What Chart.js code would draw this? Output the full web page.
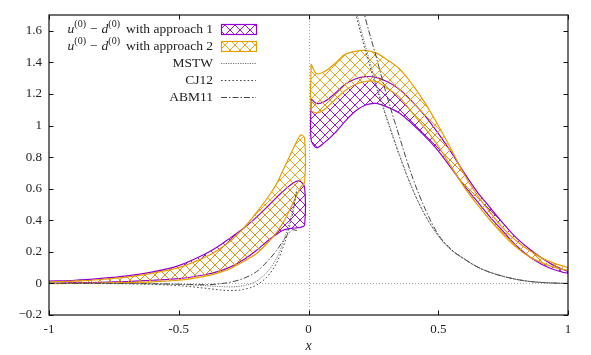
<!DOCTYPE html>
<html>
<head>
<meta charset="utf-8">
<script src="https://cdn.jsdelivr.net/npm/chart.js@4.4.1/dist/chart.umd.min.js"></script>
<style>
  html, body { margin: 0; padding: 0; background: #fff; }
  #wrap { width: 591px; height: 355px; }
</style>
</head>
<body>
<div id="wrap"><canvas id="chart" width="591" height="355"></canvas></div>
<script>
// axis ticks
const xTicks = [-1, -0.5, 0, 0.5, 1];
const xTickLabels = ['-1', '-0.5', '0', '0.5', '1'];
const yTicks = [-0.2, 0, 0.2, 0.4, 0.6, 0.8, 1, 1.2, 1.4, 1.6];
const yTickLabels = ['\u22120.2', '0', '0.2', '0.4', '0.6', '0.8', '1', '1.2', '1.4', '1.6'];

// band pieces for x < 0
const xLeft = [-1, -0.9, -0.8, -0.7, -0.6, -0.5, -0.4, -0.35, -0.3, -0.25, -0.2, -0.15, -0.12, -0.1, -0.08, -0.06, -0.045, -0.03, -0.015];
const appr1LeftUpper = [0.015, 0.02, 0.032, 0.048, 0.073, 0.113, 0.185, 0.232, 0.29, 0.35, 0.42, 0.50, 0.55, 0.58, 0.61, 0.635, 0.648, 0.645, 0.61];
const appr1LeftLower = [0.003, 0.005, 0.007, 0.012, 0.02, 0.03, 0.055, 0.075, 0.105, 0.15, 0.21, 0.28, 0.315, 0.335, 0.345, 0.35, 0.352, 0.355, 0.37];
const appr2LeftUpper = [0.01, 0.015, 0.025, 0.04, 0.065, 0.10, 0.165, 0.21, 0.27, 0.35, 0.45, 0.56, 0.64, 0.71, 0.78, 0.85, 0.90, 0.94, 0.92];
const appr2LeftLower = [0.0, 0.0, 0.002, 0.005, 0.01, 0.02, 0.045, 0.065, 0.095, 0.14, 0.19, 0.27, 0.33, 0.38, 0.44, 0.51, 0.56, 0.61, 0.64];

// band pieces for x > 0
const xRight = [0.01, 0.03, 0.06, 0.1, 0.14, 0.18, 0.22, 0.26, 0.3, 0.35, 0.4, 0.45, 0.5, 0.55, 0.6, 0.65, 0.7, 0.75, 0.8, 0.85, 0.9, 0.95, 1.0];
const appr1RightUpper = [1.17, 1.14, 1.15, 1.20, 1.26, 1.295, 1.31, 1.305, 1.28, 1.23, 1.15, 1.06, 0.95, 0.83, 0.70, 0.58, 0.48, 0.38, 0.29, 0.22, 0.16, 0.11, 0.075];
const appr1RightLower = [0.91, 0.86, 0.89, 0.95, 1.025, 1.09, 1.13, 1.14, 1.12, 1.08, 1.01, 0.93, 0.84, 0.73, 0.62, 0.52, 0.42, 0.33, 0.24, 0.17, 0.12, 0.085, 0.065];
const appr2RightUpper = [1.39, 1.33, 1.34, 1.39, 1.45, 1.47, 1.475, 1.46, 1.42, 1.36, 1.26, 1.14, 1.0, 0.85, 0.69, 0.56, 0.45, 0.35, 0.27, 0.21, 0.16, 0.125, 0.10];
const appr2RightLower = [1.10, 1.08, 1.10, 1.16, 1.22, 1.26, 1.28, 1.28, 1.24, 1.18, 1.08, 0.98, 0.87, 0.74, 0.61, 0.50, 0.40, 0.31, 0.23, 0.17, 0.13, 0.10, 0.085];

// global fits
const xPdfLeft = [-1, -0.8, -0.6, -0.5, -0.4, -0.35, -0.3, -0.25, -0.2, -0.15, -0.12, -0.1, -0.08, -0.06, -0.045];
const mstwLeft = [0, 0, -0.002, -0.006, -0.014, -0.019, -0.022, -0.014, 0.015, 0.09, 0.17, 0.25, 0.35, 0.47, 0.58];
const cj12Left = [0, -0.001, -0.006, -0.014, -0.03, -0.04, -0.045, -0.038, -0.01, 0.06, 0.14, 0.22, 0.32, 0.45, 0.6];
const abm11Left = [0, 0, -0.002, -0.005, -0.008, -0.004, 0.008, 0.032, 0.075, 0.155, 0.215, 0.265, 0.31, 0.34, 0.335];

const xPdfRight = [0.1, 0.14, 0.18, 0.22, 0.26, 0.3, 0.35, 0.4, 0.45, 0.5, 0.55, 0.6, 0.65, 0.7, 0.75, 0.8, 0.85, 0.9, 0.95, 1.0];
const mstwRight = [2.35, 2.03, 1.75, 1.50, 1.27, 1.06, 0.82, 0.60, 0.43, 0.30, 0.21, 0.155, 0.105, 0.07, 0.045, 0.026, 0.013, 0.006, 0.002, 0];
const cj12Right = [2.3, 2.0, 1.72, 1.47, 1.25, 1.05, 0.81, 0.60, 0.43, 0.305, 0.215, 0.155, 0.105, 0.07, 0.045, 0.026, 0.013, 0.006, 0.002, 0];
const abm11Right = [2.6, 2.25, 1.95, 1.675, 1.44, 1.20, 0.93, 0.675, 0.47, 0.31, 0.215, 0.155, 0.105, 0.07, 0.045, 0.026, 0.013, 0.006, 0.002, 0];

const PURPLE = '#9400d3';
const ORANGE = '#e69f00';
const FONT = 'Liberation Serif';

Chart.defaults.font.family = FONT;
Chart.defaults.font.size = 13;
Chart.defaults.color = '#222';

// crosshatch fill like gnuplot pattern
function hatch(color) {
    const c = document.createElement('canvas');
    c.width = 10;
    c.height = 10;
    const g = c.getContext('2d');
    g.strokeStyle = color;
    g.lineWidth = 0.9;
    g.beginPath();
    for (const o of [-10, 0, 10]) {
        g.moveTo(o, 0); g.lineTo(o + 10, 10);
        g.moveTo(o, 10); g.lineTo(o + 10, 0);
    }
    g.stroke();
    return g.createPattern(c, 'repeat');
}

// closed outline: upper curve forward, lower curve back
function polygon(xs, upper, lower) {
    const pts = xs.map((x, i) => ({ x: x, y: upper[i] }));
    for (let i = xs.length - 1; i >= 0; i--) pts.push({ x: xs[i], y: lower[i] });
    pts.push({ x: xs[0], y: upper[0] });
    return pts;
}

function curve(xs, ys) {
    return xs.map((x, i) => ({ x: x, y: ys[i] }));
}

function band(xs, upper, lower, color, order) {
    return {
        data: polygon(xs, upper, lower),
        borderColor: color,
        borderWidth: 1.2,
        backgroundColor: hatch(color),
        fill: 'shape',
        tension: 0.3,
        pointRadius: 0,
        order: order
    };
}

const lineStyles = {
    MSTW: { color: '#666', dash: [1.2, 1.2], width: 0.9 },
    CJ12: { color: '#444', dash: [1.6, 2.2], width: 1 },
    ABM11: { color: '#333', dash: [6, 2, 1.5, 2], width: 0.9 }
};

function pdfLine(xs, ys, name) {
    const s = lineStyles[name];
    return {
        data: curve(xs, ys),
        borderColor: s.color,
        borderDash: s.dash,
        borderWidth: s.width,
        fill: false,
        cubicInterpolationMode: 'monotone',
        pointRadius: 0,
        order: 0
    };
}

const datasets = [
    band(xLeft, appr1LeftUpper, appr1LeftLower, PURPLE, 2),
    band(xRight, appr1RightUpper, appr1RightLower, PURPLE, 2),
    band(xLeft, appr2LeftUpper, appr2LeftLower, ORANGE, 1),
    band(xRight, appr2RightUpper, appr2RightLower, ORANGE, 1),
    pdfLine(xPdfLeft, mstwLeft, 'MSTW'),
    pdfLine(xPdfRight, mstwRight, 'MSTW'),
    pdfLine(xPdfLeft, cj12Left, 'CJ12'),
    pdfLine(xPdfRight, cj12Right, 'CJ12'),
    pdfLine(xPdfLeft, abm11Left, 'ABM11'),
    pdfLine(xPdfRight, abm11Right, 'ABM11')
];

const legendRows = [
    { kind: 'band', color: PURPLE, suffix: 'with approach 1' },
    { kind: 'band', color: ORANGE, suffix: 'with approach 2' },
    { kind: 'line', name: 'MSTW' },
    { kind: 'line', name: 'CJ12' },
    { kind: 'line', name: 'ABM11' }
];

// draws a text made of pieces, right aligned at xr; gap = extra space before piece
function drawPieces(ctx, pieces, xr, y) {
    const fontOf = p => (p.it ? 'italic ' : '') + (p.sup ? '10px ' : '13.5px ') + FONT;
    let w = 0;
    pieces.forEach(p => { ctx.font = fontOf(p); w += (p.gap || 0) + ctx.measureText(p.t).width; });
    let x = xr - w;
    ctx.textBaseline = 'middle';
    ctx.textAlign = 'left';
    pieces.forEach(p => {
        ctx.font = fontOf(p);
        x += p.gap || 0;
        ctx.fillText(p.t, x, p.sup ? y - 5 : y);
        x += ctx.measureText(p.t).width;
    });
}

const framePlugin = {
    id: 'frame',
    beforeDatasetsDraw(chart) {
        const { ctx, chartArea: a, scales: { x, y } } = chart;
        const x0 = Math.round(x.getPixelForValue(0)) + 0.5;
        const y0 = Math.round(y.getPixelForValue(0)) + 0.5;
        ctx.save();
        ctx.strokeStyle = '#aaa';
        ctx.lineWidth = 1;
        ctx.setLineDash([1, 2]);
        ctx.beginPath();
        ctx.moveTo(x0, a.top); ctx.lineTo(x0, a.bottom);
        ctx.moveTo(a.left, y0); ctx.lineTo(a.right, y0);
        ctx.stroke();
        ctx.restore();
    },
    afterDraw(chart) {
        const { ctx, chartArea: a, scales: { x, y } } = chart;
        ctx.save();
        ctx.strokeStyle = '#111';
        ctx.lineWidth = 1.2;
        ctx.strokeRect(a.left, a.top, a.right - a.left, a.bottom - a.top);
        ctx.lineWidth = 1;
        ctx.beginPath();
        const t = 4.5;
        xTicks.forEach(v => {
            const px = Math.round(x.getPixelForValue(v)) + 0.5;
            ctx.moveTo(px, a.bottom); ctx.lineTo(px, a.bottom - t);
            ctx.moveTo(px, a.top); ctx.lineTo(px, a.top + t);
        });
        yTicks.forEach(v => {
            const py = Math.round(y.getPixelForValue(v)) + 0.5;
            ctx.moveTo(a.left, py); ctx.lineTo(a.left + t, py);
            ctx.moveTo(a.right, py); ctx.lineTo(a.right - t, py);
        });
        ctx.stroke();

        // legend, gnuplot style: text right aligned, sample to the right
        const textRight = 213, sx0 = 221, sx1 = 256;
        legendRows.forEach((row, i) => {
            const cy = 29 + i * 17;
            ctx.fillStyle = '#222';
            if (row.kind === 'band') {
                drawPieces(ctx, [
                    { t: 'u', it: true }, { t: '(0)', sup: true }, { t: '\u2212', gap: 4 },
                    { t: 'd', it: true, gap: 4 }, { t: '(0)', sup: true }, { t: row.suffix, gap: 6 }
                ], textRight, cy);
                ctx.fillStyle = hatch(row.color);
                ctx.fillRect(sx0, cy - 5, sx1 - sx0, 10);
                ctx.strokeStyle = row.color;
                ctx.lineWidth = 1.2;
                ctx.setLineDash([]);
                ctx.strokeRect(sx0 + 0.5, cy - 4.5, sx1 - sx0, 10);
            } else {
                drawPieces(ctx, [{ t: row.name }], textRight, cy);
                const s = lineStyles[row.name];
                ctx.strokeStyle = s.color;
                ctx.lineWidth = s.width;
                ctx.setLineDash(s.dash);
                ctx.beginPath();
                ctx.moveTo(sx0, cy + 0.5); ctx.lineTo(sx1, cy + 0.5);
                ctx.stroke();
            }
        });
        ctx.restore();
    }
};

new Chart(document.getElementById('chart'), {
    type: 'line',
    data: { datasets: datasets },
    options: {
        responsive: false,
        animation: false,
        layout: { padding: { top: 15, right: 23, left: 0, bottom: 0 } },
        plugins: { legend: { display: false }, tooltip: { enabled: false } },
        scales: {
            x: {
                type: 'linear',
                min: -1,
                max: 1,
                grid: { display: false, drawTicks: false },
                border: { display: false },
                afterBuildTicks: s => { s.ticks = xTicks.map(v => ({ value: v })); },
                ticks: { padding: 7, autoSkip: false, maxRotation: 0, callback: (v, i) => xTickLabels[i] },
                title: { display: true, text: 'x', font: { style: 'italic', size: 14 }, padding: { top: 0, bottom: 0 } },
                afterFit: s => { s.height = 40; }
            },
            y: {
                type: 'linear',
                min: -0.2,
                max: 1.7,
                grid: { display: false, drawTicks: false },
                border: { display: false },
                afterBuildTicks: s => { s.ticks = yTicks.map(v => ({ value: v })); },
                ticks: { padding: 7, autoSkip: false, callback: (v, i) => yTickLabels[i] },
                afterFit: s => { s.width = 49; }
            }
        }
    },
    plugins: [framePlugin]
});
</script>
</body>
</html>
